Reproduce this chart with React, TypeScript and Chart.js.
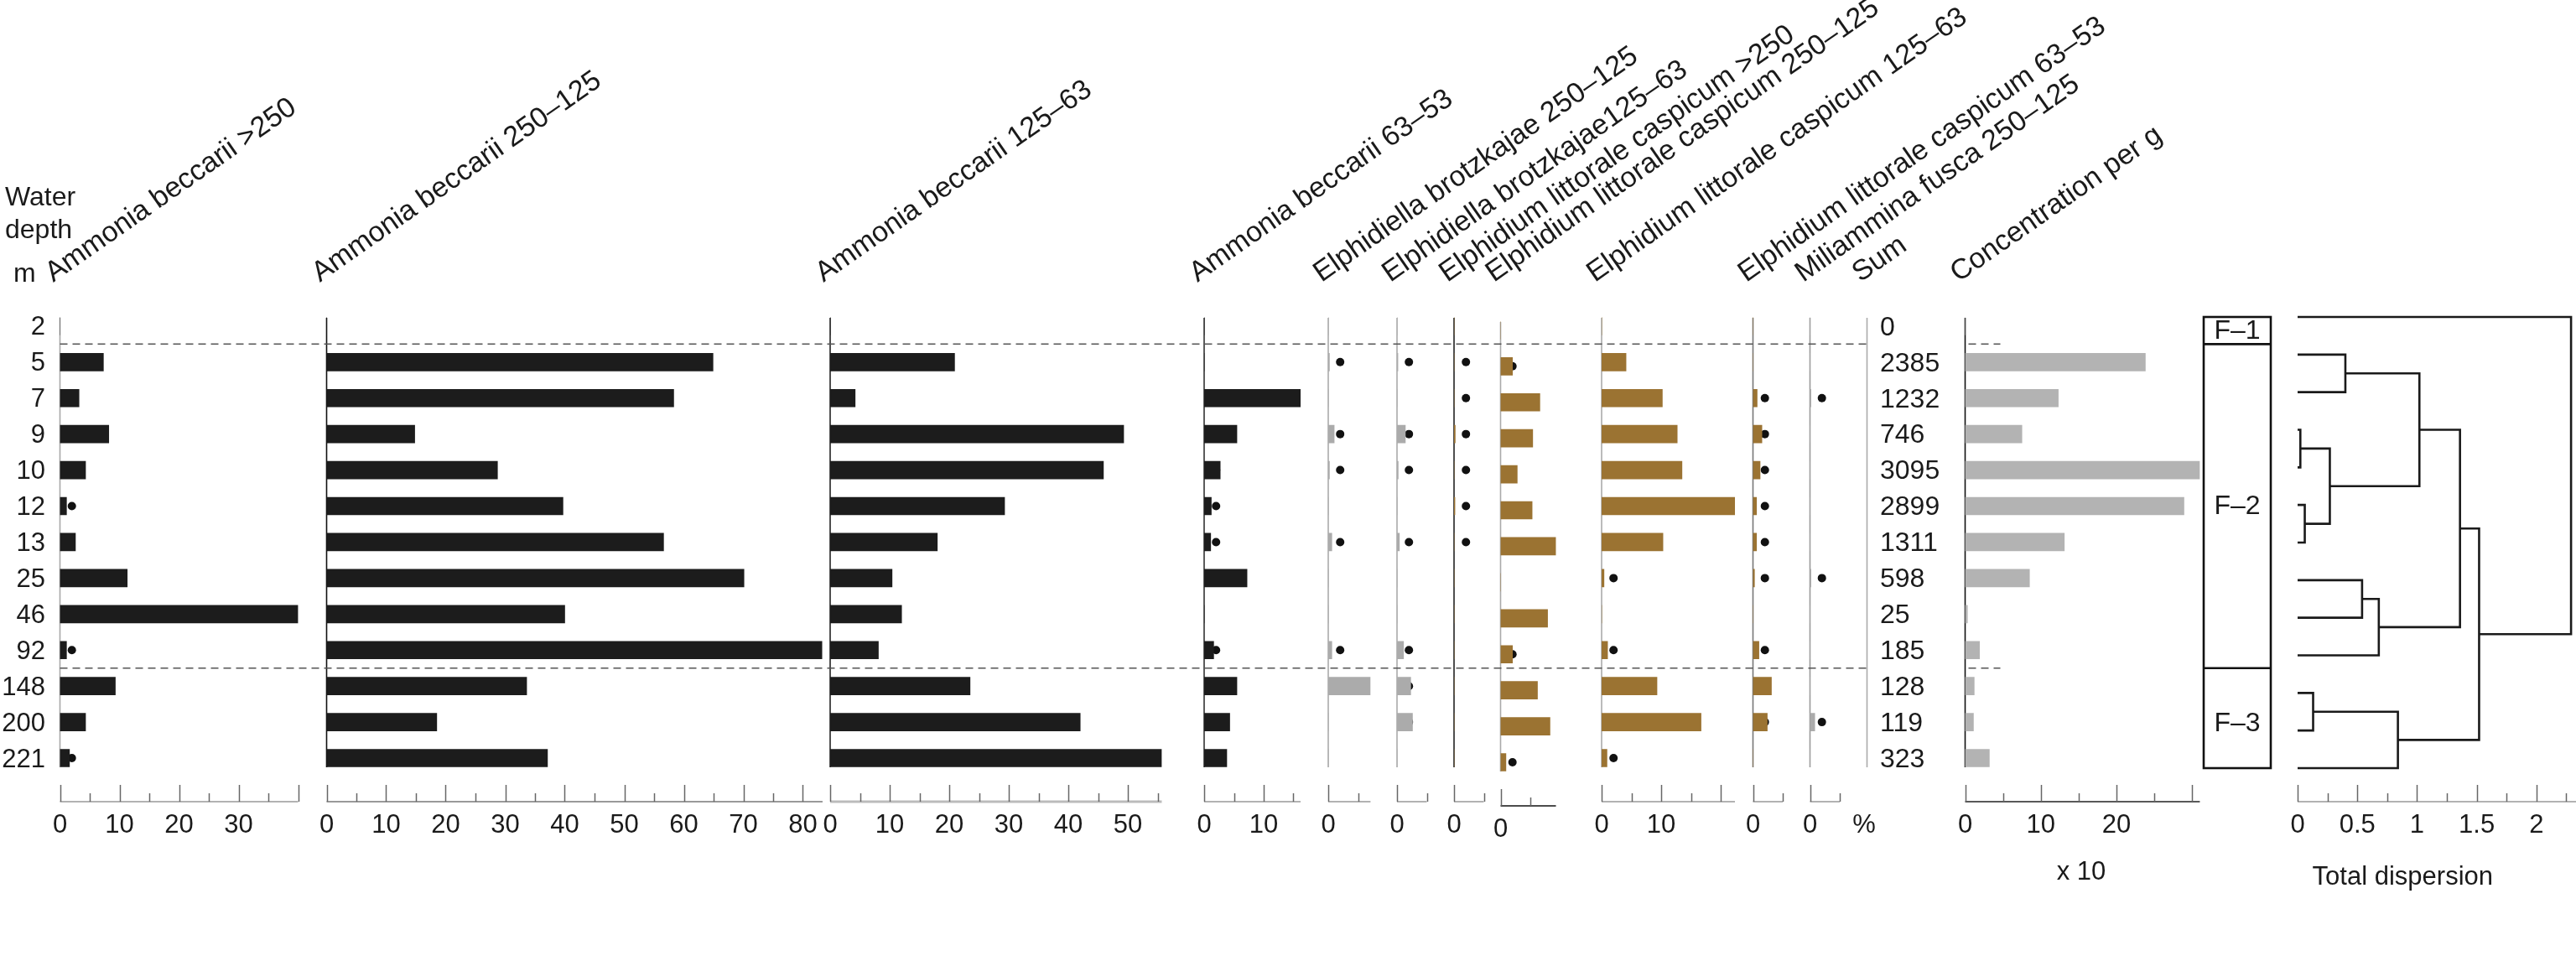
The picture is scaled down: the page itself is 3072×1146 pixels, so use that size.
import { useEffect, useRef } from "react";
import { Chart, registerables } from "chart.js";
Chart.register(...registerables);

const W = 3072;
const H = 1146;

// ---------------- data ----------------
const depths = ["2", "5", "7", "9", "10", "12", "13", "25", "46", "92", "148", "200", "221"];
const sums = ["0", "2385", "1232", "746", "3095", "2899", "1311", "598", "25", "185", "128", "119", "323"];

// percentages
const abGt250 = [0, 7.3, 3.2, 8.2, 4.3, 1.1, 2.6, 11.3, 40.0, 1.1, 9.3, 4.3, 1.6];
const ab250_125 = [0, 64.9, 58.3, 14.8, 28.7, 39.7, 56.6, 70.1, 40.0, 83.2, 33.6, 18.5, 37.1];
const ab125_63 = [0, 20.9, 4.2, 49.3, 45.9, 29.3, 18.0, 10.4, 12.0, 8.1, 23.5, 42.0, 55.7];
const ab63_53 = [0, 0, 16.2, 5.5, 2.7, 1.2, 1.1, 7.2, 0, 1.6, 5.5, 4.3, 3.8];
const eb250_125 = [0, 0.2, 0, 1.0, 0.2, 0, 0.6, 0, 0, 0.6, 7.1, 0, 0];
const eb125_63 = [0, 0.15, 0, 1.4, 0.2, 0, 0.4, 0, 0, 1.1, 2.3, 2.6, 0];
const elcGt250 = [0, 0, 0, 0.2, 0, 0.15, 0, 0, 0, 0, 0, 0, 0];
const elc250_125 = [0, 2.0, 6.6, 5.4, 2.8, 5.3, 9.3, 0, 7.9, 2.0, 6.2, 8.3, 0.9];
const elc125_63 = [0, 4.1, 10.2, 12.7, 13.5, 22.4, 10.3, 0.4, 0, 1.0, 9.3, 16.7, 0.9];
const elc63_53 = [0, 0, 0.7, 1.5, 1.2, 0.6, 0.6, 0.25, 0, 1.0, 3.1, 2.4, 0];
const mf250_125 = [0, 0, 0.15, 0, 0, 0, 0, 0.15, 0, 0, 0, 0.8, 0];
// concentration per g (x 10)
const concentration = [0, 23.8, 12.3, 7.5, 31.0, 28.9, 13.1, 8.5, 0.3, 1.9, 1.2, 1.1, 3.2];

// presence markers (1 = dot)
const dAbGt250 = [0, 0, 0, 0, 0, 1, 0, 0, 0, 1, 0, 0, 1];
const dNone = [0, 0, 0, 0, 0, 0, 0, 0, 0, 0, 0, 0, 0];
const dAb63_53 = [0, 0, 0, 0, 1, 1, 1, 0, 0, 1, 0, 0, 0];
const dEb250_125 = [0, 1, 0, 1, 1, 0, 1, 0, 0, 1, 0, 0, 0];
const dEb125_63 = [0, 1, 0, 1, 1, 0, 1, 0, 0, 1, 1, 1, 0];
const dElcGt250 = [0, 1, 1, 1, 1, 1, 1, 0, 0, 0, 0, 0, 0];
const dElc250_125 = [0, 1, 0, 0, 0, 0, 0, 0, 0, 1, 0, 0, 1];
const dElc125_63 = [0, 0, 0, 0, 0, 0, 0, 1, 0, 1, 0, 0, 1];
const dElc63_53 = [0, 0, 1, 1, 1, 1, 1, 1, 0, 1, 0, 1, 0];
const dMf250_125 = [0, 0, 1, 0, 0, 0, 0, 1, 0, 0, 0, 1, 0];

const headers = [
  "Ammonia beccarii >250",
  "Ammonia beccarii 250–125",
  "Ammonia beccarii 125–63",
  "Ammonia beccarii 63–53",
  "Elphidiella brotzkajae 250–125",
  "Elphidiella brotzkajae125–63",
  "Elphidium littorale caspicum >250",
  "Elphidium littorale caspicum 250–125",
  "Elphidium littorale caspicum 125–63",
  "Elphidium littorale caspicum 63–53",
  "Miliammina fusca 250–125",
  "Sum",
  "Concentration per g",
];

// dendrogram merges (node ids: leaves 0..12, merges 13..)
const dendroA = [3, 5, 10, 13, 1, 7, 18, 15, 17, 21, 22, 0];
const dendroB = [4, 6, 11, 14, 2, 8, 9, 12, 16, 19, 20, 23];
const dendroH = [0.023, 0.06, 0.13, 0.27, 0.4, 0.54, 0.68, 0.84, 1.02, 1.36, 1.52, 2.29];
const dendroTicks = [0, 0.25, 0.5, 0.75, 1, 1.25, 1.5, 1.75, 2, 2.25];
const dendroLabels = [0, 0.5, 1, 1.5, 2];
const zoneLabels = ["F–1", "F–2", "F–3"];

// ---------------- layout ----------------
const PLOT_TOP = 367.4;
const BAND = 42.93;
const PLOT_BOTTOM = PLOT_TOP + BAND * 13;
const VLINE_TOP = 379;
const VLINE_BOTTOM = 915;
const AXIS_Y = 956;
const TICK_MAJOR = 20;
const TICK_MINOR = 10;
const LABEL_Y = 984;
const PCT_PX = 7.1;
const DOT_X = 2;
const FONT = '"Liberation Sans", Arial, Helvetica, sans-serif';
const TEXT = "#1a1a1a";
const BLACK = "#1c1c1c";
const GRAY = "#ababab";
const CONC = "#b3b3b3";
const BROWN = "#9b7332";

const DENDRO_X0 = 2740;
const DENDRO_PX = 142.4;
const DENDRO_TOP = 378;
const DENDRO_BOTTOM = 916;
const ZONE_L = 2628;
const ZONE_R = 2708;
const SUM_X = 2226.5;

type Panel = {
  values: number[];
  dots: number[];
  x0: number;
  max: number;
  ppu?: number;
  color: string;
  vColor: string;
  hColor: string;
  hWidth?: number;
  labels: number[];
  dy?: number;
};

const panels: Panel[] = [
  { values: abGt250, dots: dAbGt250, x0: 71.5, max: 40, color: BLACK, vColor: "#a8a8a8", hColor: "#999", labels: [0, 10, 20, 30] },
  { values: ab250_125, dots: dNone, x0: 389.5, max: 83.3, color: BLACK, vColor: "#111", hColor: "#777", labels: [0, 10, 20, 30, 40, 50, 60, 70, 80] },
  { values: ab125_63, dots: dNone, x0: 990, max: 55.7, color: BLACK, vColor: "#222", hColor: "#bbb", hWidth: 3, labels: [0, 10, 20, 30, 40, 50] },
  { values: ab63_53, dots: dAb63_53, x0: 1436, max: 16.2, color: BLACK, vColor: "#333", hColor: "#999", labels: [0, 10] },
  { values: eb250_125, dots: dEb250_125, x0: 1584, max: 7.1, color: GRAY, vColor: "#aaa", hColor: "#999", labels: [0] },
  { values: eb125_63, dots: dEb125_63, x0: 1666, max: 5, color: GRAY, vColor: "#aaa", hColor: "#999", labels: [0] },
  { values: elcGt250, dots: dElcGt250, x0: 1734, max: 5, color: BROWN, vColor: "#222", hColor: "#999", labels: [0] },
  { values: elc250_125, dots: dElc250_125, x0: 1789.5, max: 9.3, color: BROWN, vColor: "#aaa", hColor: "#111", labels: [0], dy: 5 },
  { values: elc125_63, dots: dElc125_63, x0: 1910, max: 22.4, color: BROWN, vColor: "#aaa", hColor: "#999", labels: [0, 10] },
  { values: elc63_53, dots: dElc63_53, x0: 2090.5, max: 5, color: BROWN, vColor: "#777", hColor: "#999", labels: [0] },
  { values: mf250_125, dots: dMf250_125, x0: 2158.5, max: 5, color: GRAY, vColor: "#999", hColor: "#999", labels: [0] },
  { values: concentration, dots: dNone, x0: 2343.5, max: 31, ppu: 9.03, color: CONC, vColor: "#111", hColor: "#222", labels: [0, 10, 20] },
];
const headerX = [...panels.slice(0, 11).map((p) => p.x0), SUM_X, panels[11].x0];

function drawTicks(ctx: CanvasRenderingContext2D, xs: any, max: number, step: number, major: number, hColor: string, hWidth: number, axisEnd: number) {
  ctx.save();
  ctx.strokeStyle = hColor;
  ctx.lineWidth = hWidth;
  ctx.beginPath();
  ctx.moveTo(xs.getPixelForValue(0), AXIS_Y);
  ctx.lineTo(axisEnd, AXIS_Y);
  ctx.stroke();
  ctx.strokeStyle = "#666";
  ctx.lineWidth = 1.5;
  for (let v = 0; v <= max + 1e-6; v += step) {
    const px = Math.round(xs.getPixelForValue(v)) + 0.5;
    const isMajor = Math.abs(v / major - Math.round(v / major)) < 1e-6;
    ctx.beginPath();
    ctx.moveTo(px, AXIS_Y);
    ctx.lineTo(px, AXIS_Y - (isMajor ? TICK_MAJOR : TICK_MINOR));
    ctx.stroke();
  }
  ctx.restore();
}

function panelPlugin(p: Panel) {
  return {
    id: "panelAxes",
    beforeDatasetsDraw(chart: any) {
      const ctx = chart.ctx as CanvasRenderingContext2D;
      const x0 = chart.scales.x.getPixelForValue(0);
      ctx.save();
      ctx.strokeStyle = p.vColor;
      ctx.lineWidth = 1.6;
      ctx.beginPath();
      ctx.moveTo(x0, VLINE_TOP);
      ctx.lineTo(x0, VLINE_BOTTOM);
      ctx.stroke();
      ctx.restore();
    },
    afterDraw(chart: any) {
      const ctx = chart.ctx as CanvasRenderingContext2D;
      const xs = chart.scales.x;
      drawTicks(ctx, xs, p.max, 5, 10, p.hColor, p.hWidth ?? 1.6, xs.getPixelForValue(p.max));
      ctx.save();
      ctx.fillStyle = TEXT;
      ctx.font = `31px ${FONT}`;
      ctx.textAlign = "center";
      ctx.textBaseline = "middle";
      p.labels.forEach((v) => ctx.fillText(String(v), xs.getPixelForValue(v), LABEL_Y));
      ctx.restore();
    },
  };
}

export default function App() {
  const hostRef = useRef<HTMLDivElement>(null);

  useEffect(() => {
    const host = hostRef.current!;
    const charts: Chart[] = [];
    const canvases: HTMLCanvasElement[] = [];
    const addCanvas = (left: number, top: number, w: number, h: number) => {
      const c = document.createElement("canvas");
      c.width = w;
      c.height = h;
      c.style.position = "absolute";
      c.style.left = left + "px";
      c.style.top = top + "px";
      c.style.width = w + "px";
      c.style.height = h + "px";
      host.appendChild(c);
      canvases.push(c);
      return c;
    };

    // ---- panels ----
    panels.forEach((p) => {
      const ppu = p.ppu ?? PCT_PX;
      const left = Math.floor(p.x0) - 20;
      const padL = p.x0 - left;
      const padR = 40;
      const w = Math.ceil(padL + p.max * ppu + padR);
      const padRight = w - padL - p.max * ppu;
      const c = addCanvas(left, p.dy ?? 0, w, H);
      charts.push(
        new Chart(c, {
          type: "bar",
          data: {
            labels: depths,
            datasets: [
              {
                type: "bar",
                data: p.values,
                backgroundColor: p.color,
                borderWidth: 0,
                barThickness: 21,
                order: 1,
              } as any,
              {
                type: "line",
                indexAxis: "y",
                data: p.dots.map((d) => (d ? DOT_X : null)),
                showLine: false,
                pointRadius: 5,
                pointHoverRadius: 5,
                pointBackgroundColor: "#111",
                pointBorderWidth: 0,
                order: 2,
              } as any,
            ],
          },
          options: {
            indexAxis: "y",
            responsive: false,
            animation: false,
            devicePixelRatio: 1,
            events: [],
            layout: { padding: { left: padL, right: padRight, top: PLOT_TOP, bottom: H - PLOT_BOTTOM } },
            plugins: { legend: { display: false }, tooltip: { enabled: false } },
            scales: {
              x: { type: "linear", min: 0, max: p.max, display: false },
              y: { type: "category", display: false, offset: true },
            },
          },
          plugins: [panelPlugin(p)],
        })
      );
    });

    // ---- dendrogram ----
    const nodeY: number[] = depths.map((_, i) => i);
    const nodeH: number[] = depths.map(() => 0);
    const linkSets = dendroA.map((a, k) => {
      const b = dendroB[k];
      const h = dendroH[k];
      const ya = nodeY[a];
      const yb = nodeY[b];
      const ds = {
        type: "scatter",
        data: [
          { x: nodeH[a], y: ya },
          { x: h, y: ya },
          { x: h, y: yb },
          { x: nodeH[b], y: yb },
        ],
        showLine: true,
        borderColor: "#1a1a1a",
        borderWidth: 2.6,
        pointRadius: 0,
        fill: false,
        tension: 0,
        clip: false,
      };
      nodeY.push((ya + yb) / 2);
      nodeH.push(h);
      return ds;
    });
    const dLeft = DENDRO_X0 - 12;
    const dc = addCanvas(dLeft, 0, W - dLeft, H);
    charts.push(
      new Chart(dc, {
        type: "scatter",
        data: { datasets: linkSets as any },
        options: {
          responsive: false,
          animation: false,
          devicePixelRatio: 1,
          events: [],
          layout: { padding: { left: 12, right: 0, top: DENDRO_TOP, bottom: H - DENDRO_BOTTOM } },
          plugins: { legend: { display: false }, tooltip: { enabled: false } },
          scales: {
            x: { type: "linear", min: 0, max: (W - DENDRO_X0) / DENDRO_PX, display: false },
            y: { type: "linear", min: 0, max: depths.length - 1, reverse: true, display: false },
          },
        },
        plugins: [
          {
            id: "dendroAxis",
            afterDraw(chart: any) {
              const ctx = chart.ctx as CanvasRenderingContext2D;
              const xs = chart.scales.x;
              ctx.save();
              ctx.strokeStyle = "#999";
              ctx.lineWidth = 1.6;
              ctx.beginPath();
              ctx.moveTo(xs.getPixelForValue(0), AXIS_Y);
              ctx.lineTo(chart.width, AXIS_Y);
              ctx.stroke();
              ctx.strokeStyle = "#666";
              ctx.lineWidth = 1.5;
              dendroTicks.forEach((v) => {
                const px = Math.round(xs.getPixelForValue(v)) + 0.5;
                const major = Math.abs(v * 2 - Math.round(v * 2)) < 1e-6;
                ctx.beginPath();
                ctx.moveTo(px, AXIS_Y);
                ctx.lineTo(px, AXIS_Y - (major ? TICK_MAJOR : TICK_MINOR));
                ctx.stroke();
              });
              ctx.fillStyle = TEXT;
              ctx.font = `31px ${FONT}`;
              ctx.textAlign = "center";
              ctx.textBaseline = "middle";
              dendroLabels.forEach((v) => ctx.fillText(String(v), xs.getPixelForValue(v), LABEL_Y));
              ctx.fillText("Total dispersion", xs.getPixelForValue(0.88), 1046);
              ctx.restore();
            },
          },
        ],
      })
    );

    // ---- overlay: texts, dashed separators, zone box ----
    const oc = addCanvas(0, 0, W, H);
    charts.push(
      new Chart(oc, {
        type: "bar",
        data: { labels: depths, datasets: [] },
        options: {
          indexAxis: "y",
          responsive: false,
          animation: false,
          devicePixelRatio: 1,
          events: [],
          layout: { padding: { left: 0, right: 0, top: PLOT_TOP, bottom: H - PLOT_BOTTOM } },
          plugins: { legend: { display: false }, tooltip: { enabled: false } },
          scales: {
            x: { type: "linear", min: 0, max: W, display: false },
            y: { type: "category", display: false, offset: true },
          },
        },
        plugins: [
          {
            id: "overlayText",
            afterDraw(chart: any) {
              const ctx = chart.ctx as CanvasRenderingContext2D;
              const ys = chart.scales.y;
              ctx.save();
              ctx.fillStyle = TEXT;

              // Water depth
              ctx.font = `32px ${FONT}`;
              ctx.textAlign = "left";
              ctx.textBaseline = "alphabetic";
              ctx.fillText("Water", 6, 245);
              ctx.fillText("depth", 6, 284);
              ctx.fillText("m", 16, 336);

              // depth labels and sums
              ctx.textBaseline = "middle";
              depths.forEach((d, i) => {
                const y = ys.getPixelForValue(i) + 2;
                ctx.font = `31px ${FONT}`;
                ctx.textAlign = "right";
                ctx.fillText(d, 54, y);
                ctx.font = `32px ${FONT}`;
                ctx.textAlign = "left";
                ctx.fillText(sums[i], 2242, y);
              });

              // headers
              ctx.font = `34px ${FONT}`;
              ctx.textAlign = "left";
              ctx.textBaseline = "alphabetic";
              headers.forEach((t, i) => {
                ctx.save();
                ctx.translate(headerX[i] - 8, 337);
                ctx.rotate((-35 * Math.PI) / 180);
                ctx.fillText(t, 0, 0);
                ctx.restore();
              });

              // misc labels
              ctx.font = `31px ${FONT}`;
              ctx.textAlign = "center";
              ctx.textBaseline = "middle";
              ctx.fillText("%", 2223, LABEL_Y);
              ctx.fillText("x 10", 2482, 1040);

              // sum column line
              ctx.strokeStyle = "#aaa";
              ctx.lineWidth = 1.6;
              ctx.beginPath();
              ctx.moveTo(SUM_X, VLINE_TOP);
              ctx.lineTo(SUM_X, VLINE_BOTTOM);
              ctx.stroke();

              // dashed facies separators
              const sepY = [ys.getPixelForValue(0.5), ys.getPixelForValue(9.5)];
              ctx.strokeStyle = "#555";
              ctx.lineWidth = 1.5;
              ctx.setLineDash([9, 6]);
              sepY.forEach((y) => {
                ctx.beginPath();
                ctx.moveTo(panels[0].x0, y);
                ctx.lineTo(SUM_X, y);
                ctx.stroke();
                ctx.beginPath();
                ctx.moveTo(panels[11].x0 + 4, y);
                ctx.lineTo(panels[11].x0 + 42, y);
                ctx.stroke();
              });
              ctx.setLineDash([]);

              // zone box
              ctx.strokeStyle = "#111";
              ctx.lineWidth = 2.6;
              ctx.strokeRect(ZONE_L, DENDRO_TOP, ZONE_R - ZONE_L, DENDRO_BOTTOM - DENDRO_TOP);
              sepY.forEach((y) => {
                ctx.beginPath();
                ctx.moveTo(ZONE_L, y);
                ctx.lineTo(ZONE_R, y);
                ctx.stroke();
              });
              const zc = (ZONE_L + ZONE_R) / 2;
              const zoneMid = [
                (DENDRO_TOP + sepY[0]) / 2,
                (sepY[0] + sepY[1]) / 2,
                (sepY[1] + DENDRO_BOTTOM) / 2 + 6,
              ];
              ctx.font = `32px ${FONT}`;
              ctx.textAlign = "center";
              zoneLabels.forEach((t, i) => ctx.fillText(t, zc, zoneMid[i] + 1));

              ctx.restore();
            },
          },
        ],
      })
    );

    return () => {
      charts.forEach((c) => c.destroy());
      canvases.forEach((c) => c.remove());
    };
  }, []);

  return (
    <div
      ref={hostRef}
      style={{ position: "fixed", left: 0, top: 0, width: W, height: H, background: "#fff", overflow: "hidden" }}
    />
  );
}
